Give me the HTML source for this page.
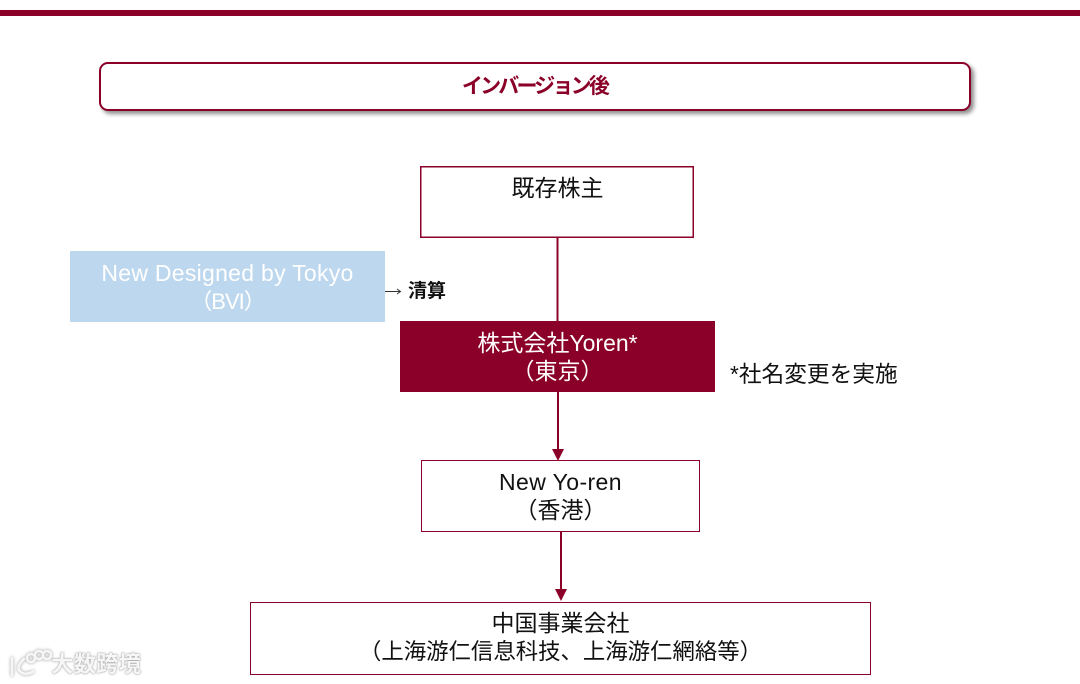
<!DOCTYPE html>
<html lang="ja">
<head>
<meta charset="utf-8">
<style>
html,body{margin:0;padding:0;background:#fff;}
#p{position:relative;width:1080px;height:684px;overflow:hidden;background:#fff;font-family:"Liberation Sans","Noto Sans CJK JP",sans-serif;color:#111;}
.b{position:absolute;box-sizing:border-box;}
.t{position:absolute;text-align:center;white-space:nowrap;font-size:23px;line-height:28px;}
.l{letter-spacing:.28px;}
</style>
</head>
<body>
<div id="p">
<div class="b" style="left:0;top:10px;width:1080px;height:6px;background:#8b0028;"></div>
<div class="b" style="left:99px;top:62px;width:872px;height:49px;background:#fff;border:2px solid #8b0028;border-radius:9px;box-shadow:3px 3px 4px rgba(0,0,0,.45);"></div>
<div class="t" style="left:98px;top:72px;width:873px;font-size:21px;line-height:30px;font-weight:bold;color:#8b0028;letter-spacing:-2.8px;">インバージョン後</div>

<svg class="b" style="left:0;top:0;" width="1080" height="684">
<rect x="420.750" y="166.750" width="272.500" height="70.500" fill="#fff" stroke="#8b0028" stroke-width="1.500"/>
</svg>
<div class="t" style="left:420px;top:174px;width:275px;">既存株主</div>

<div class="b" style="left:70px;top:251px;width:315px;height:71px;background:#bdd7ee;"></div>
<div class="t l" style="left:70px;top:259px;width:315px;color:#fff;">New Designed by Tokyo<br><span style="font-size:22px;letter-spacing:-1px">（BVI）</span></div>
<svg class="b" style="left:0;top:0;" width="1080" height="684">
<line x1="557.500" y1="238" x2="557.500" y2="322" stroke="#8b0028" stroke-width="2"/>
<line x1="558" y1="391" x2="558" y2="450" stroke="#8b0028" stroke-width="2"/>
<polygon points="552,449 564,449 558,461" fill="#8b0028"/>
<line x1="561" y1="531" x2="561" y2="590" stroke="#8b0028" stroke-width="2"/>
<polygon points="555,589 567,589 561,601" fill="#8b0028"/>
<line x1="385" y1="291.500" x2="400" y2="291.500" stroke="#333" stroke-width="1"/>
<polyline points="397,289 400.500,291.500 397,294" fill="none" stroke="#333" stroke-width="1"/>
</svg>
<div class="t" style="left:408px;top:279px;font-size:19px;line-height:26px;font-weight:bold;color:#111;">清算</div>

<div class="b" style="left:400px;top:321px;width:315px;height:71px;background:#8b0028;"></div>
<div class="t" style="left:400px;top:329px;width:315px;color:#fff;">株式会社Yoren*<br>（東京）</div>
<div class="t" style="left:730px;top:360px;font-size:22.700px;">*社名変更を実施</div>

<div class="b" style="left:421px;top:460px;width:279px;height:72px;border:1px solid #8b0028;background:#fff;"></div>
<div class="t" style="left:421px;top:468px;width:279px;"><span style="letter-spacing:.4px">New Yo-ren</span><br>（香港）</div>

<div class="b" style="left:250px;top:602px;width:621px;height:73px;border:1px solid #8b0028;background:#fff;"></div>
<div class="t" style="left:250px;top:609px;width:621px;">中国事業会社<br><span style="font-size:22.400px">（上海游仁信息科技、上海游仁網絡等）</span></div>

<div class="t" style="left:51px;top:651px;font-size:22.500px;line-height:28px;font-weight:bold;color:#f6f6f6;text-shadow:0 0 2px #999,0 0 1px #aaa;">大数跨境</div>
<svg class="b" style="left:6px;top:646px;filter:drop-shadow(0 0 1.500px #999);" width="46" height="34" fill="none" stroke="#f6f6f6" stroke-width="2.500">
<path d="M6 11v19"/><path d="M19 12 Q11 19 13 24 Q18 31 28 25"/>
<circle cx="25" cy="12" r="4"/><circle cx="33" cy="9" r="4"/><circle cx="41" cy="9" r="4"/>
</svg>
</div>
</body>
</html>
